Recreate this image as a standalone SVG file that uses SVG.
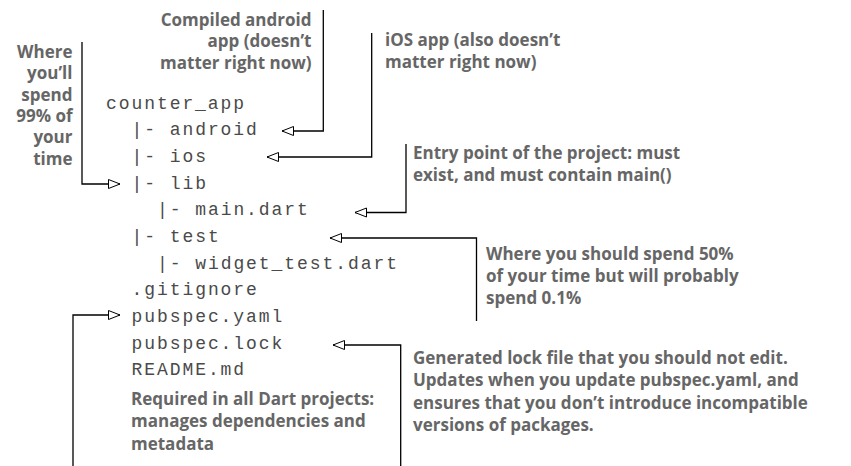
<svg xmlns="http://www.w3.org/2000/svg" width="851" height="466" viewBox="0 0 851 466">
<defs>
<style>
.t{font-family:"Liberation Mono","DejaVu Sans Mono",monospace;font-size:18px;letter-spacing:1.93px;fill:#4a4a4a}
.n{font-family:"Open Sans","Noto Sans",sans-serif;font-weight:700;font-size:17px;fill:#666}
.e{text-anchor:end}
.c{fill:none;stroke:#000;stroke-width:1.3}
</style>
<marker id="ah" markerUnits="userSpaceOnUse" markerWidth="14" markerHeight="12" refX="12" refY="5" orient="auto" overflow="visible">
<path d="M0.5,0.5 L12,5 L0.5,9.5 Z" fill="#fff" stroke="#000" stroke-width="1"/>
</marker>
</defs>
<rect width="851" height="466" fill="#fff"/>
<g id="connectors">
<path class="c" d="M82,42 V184 H120" marker-end="url(#ah)"/>
<path class="c" d="M323.3,10 V131 H282" marker-end="url(#ah)"/>
<path class="c" d="M371.7,33 V157 H267" marker-end="url(#ah)"/>
<path class="c" d="M406,144 V212.5 H355" marker-end="url(#ah)"/>
<path class="c" d="M476.5,321 V238 H330" marker-end="url(#ah)"/>
<path class="c" d="M73,466 V315 H120" marker-end="url(#ah)"/>
<path class="c" d="M400.7,466 V345 H333" marker-end="url(#ah)"/>
</g>
<g id="counter_app"><text class="t" x="106" y="108.5">counter_app</text></g>
<g id="android"><text class="t" x="131.5" y="135.2">|- android</text></g>
<g id="ios"><text class="t" x="131.5" y="161.8">|- ios</text></g>
<g id="lib"><text class="t" x="131.5" y="188.5">|- lib</text></g>
<g id="main_dart"><text class="t" x="157" y="215.2">|- main.dart</text></g>
<g id="test"><text class="t" x="131.5" y="241.8">|- test</text></g>
<g id="widget_test"><text class="t" x="157" y="268.5">|- widget_test.dart</text></g>
<g id="gitignore"><text class="t" x="131.5" y="295.2">.gitignore</text></g>
<g id="pubspec_yaml"><text class="t" x="131.5" y="321.9">pubspec.yaml</text></g>
<g id="pubspec_lock"><text class="t" x="131.5" y="348.5">pubspec.lock</text></g>
<g id="readme"><text class="t" x="131.5" y="375.2">README.md</text></g>
<g id="note_lib"><text class="n e"><tspan x="72.5" y="58">Where</tspan><tspan x="72.5" y="79.3">you’ll</tspan><tspan x="72.5" y="100.6">spend</tspan><tspan x="72.5" y="121.9">99% of</tspan><tspan x="72.5" y="143.2">your</tspan><tspan x="72.5" y="164.5">time</tspan></text></g>
<g id="note_android"><text class="n e"><tspan x="311.5" y="25.5">Compiled android</tspan><tspan x="311.5" y="47">app (doesn’t</tspan><tspan x="311.5" y="68.5">matter right now)</tspan></text></g>
<g id="note_ios"><text class="n"><tspan x="385" y="45.5">iOS app (also doesn’t</tspan><tspan x="385" y="67.5">matter right now)</tspan></text></g>
<g id="note_main"><text class="n"><tspan x="413" y="158.5">Entry point of the project: must</tspan><tspan x="413" y="181">exist, and must contain main()</tspan></text></g>
<g id="note_test"><text class="n"><tspan x="486" y="259.5">Where you should spend 50%</tspan><tspan x="486" y="281.5">of your time but will probably</tspan><tspan x="486" y="303.5">spend 0.1%</tspan></text></g>
<g id="note_lock"><text class="n"><tspan x="413" y="363.5">Generated lock file that you should not edit.</tspan><tspan x="413" y="386">Updates when you update pubspec.yaml, and</tspan><tspan x="413" y="408.5">ensures that you don’t introduce incompatible</tspan><tspan x="413" y="431">versions of packages.</tspan></text></g>
<g id="note_pubspec"><text class="n"><tspan x="131" y="404.5">Required in all Dart projects:</tspan><tspan x="131" y="427">manages dependencies and</tspan><tspan x="131" y="449.5">metadata</tspan></text></g>
</svg>
